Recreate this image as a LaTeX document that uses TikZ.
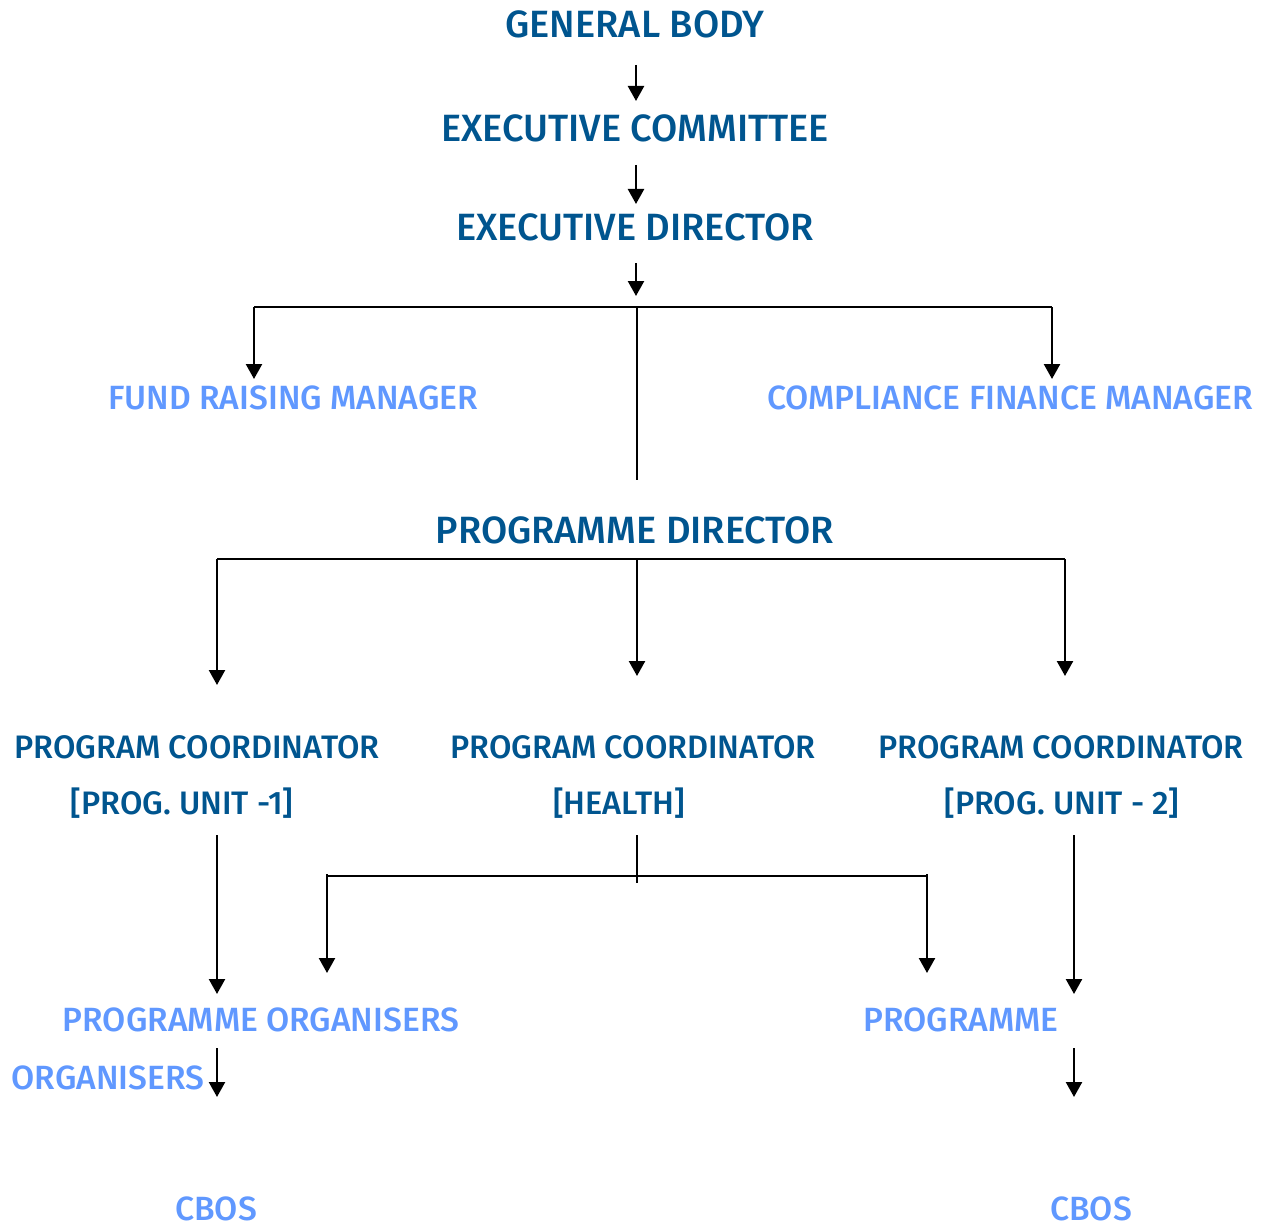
\documentclass[tikz,border=0pt]{standalone}
\usepackage{fontspec}
\setmainfont{Fira Sans}[UprightFont=* Medium]
\usetikzlibrary{arrows.meta}
\definecolor{dblue}{RGB}{0,85,143}
\definecolor{lblue}{RGB}{96,152,255}
\tikzset{
  big/.style={text=dblue,font=\fontsize{38}{44}\selectfont,inner sep=0pt,anchor=center},
  mid/.style={text=dblue,font=\fontsize{32.5}{40}\selectfont,inner sep=0pt,anchor=center},
  lite/.style={text=lblue,font=\fontsize{33.6}{40}\selectfont,inner sep=0pt,anchor=center},
  conn/.style={line width=2.4pt,draw=black},
  arr/.style={conn,-{Triangle[length=15pt,width=16pt]}}
}
\begin{document}
\begin{tikzpicture}[x=1pt,y=-1pt]
\useasboundingbox[fill=white] (0,0) rectangle (1270,1228);
% nodes
\node[big] (gb) at (635,24) {GENERAL BODY};
\node[big] (ec) at (635,128) {EXECUTIVE COMMITTEE};
\node[big] (ed) at (635,227) {EXECUTIVE DIRECTOR};
\node[lite] (frm) at (293,398) {FUND RAISING MANAGER};
\node[lite] (cfm) at (1010,398) {COMPLIANCE FINANCE MANAGER};
\node[big] (pd) at (635,530) {PROGRAMME DIRECTOR};
\node[mid] (pc1) at (197,747) {PROGRAM COORDINATOR};
\node[mid] (pu1) at (182,803) {[PROG. UNIT -1]};
\node[mid] (pc2) at (633,747) {PROGRAM COORDINATOR};
\node[mid] (pu2) at (619,803) {[HEALTH]};
\node[mid] (pc3) at (1061,747) {PROGRAM COORDINATOR};
\node[mid] (pu3) at (1062,803) {[PROG. UNIT - 2]};
\node[lite] (po) at (261,1020) {PROGRAMME ORGANISERS};
\node[lite] (pg) at (961,1020) {PROGRAMME};
\node[lite] (org) at (108,1078) {ORGANISERS};
\node[lite] (cb1) at (216,1209) {CBOS};
\node[lite] (cb2) at (1091,1209) {CBOS};
% coordinates
\coordinate (a1s) at (636,65);  \coordinate (a1e) at (636,101);
\coordinate (a2s) at (636,165); \coordinate (a2e) at (636,204);
\coordinate (a3s) at (636,263); \coordinate (a3e) at (636,296);
\coordinate (h1l) at (254,307); \coordinate (h1r) at (1052,307); \coordinate (h1c) at (637,307);
\coordinate (frmt) at (254,379); \coordinate (cfmt) at (1052,379);
\coordinate (pdt) at (637,480);
\coordinate (h2l) at (217,559); \coordinate (h2c) at (637,559); \coordinate (h2r) at (1065,559);
\coordinate (pc1t) at (217,685); \coordinate (pc2t) at (637,676); \coordinate (pc3t) at (1065,676);
\coordinate (l1s) at (217,835); \coordinate (l1e) at (217,994);
\coordinate (r1s) at (1074,835); \coordinate (r1e) at (1074,994);
\coordinate (m1s) at (637,835); \coordinate (m1e) at (637,883);
\coordinate (h3l) at (327,876); \coordinate (h3r) at (927,876);
\coordinate (h3lt) at (327,973); \coordinate (h3rt) at (927,973);
\coordinate (l2s) at (217,1048); \coordinate (l2e) at (217,1097);
\coordinate (r2s) at (1074,1048); \coordinate (r2e) at (1074,1097);
% connectors
\draw[arr] (a1s) -- (a1e);
\draw[arr] (a2s) -- (a2e);
\draw[arr] (a3s) -- (a3e);
\draw[conn] (h1l) -- (h1r);
\draw[arr] (h1l) -- (frmt);
\draw[arr] (h1r) -- (cfmt);
\draw[conn] (h1c) -- (pdt);
\draw[conn] (h2l) -- (h2r);
\draw[arr] (h2l) -- (pc1t);
\draw[arr] (h2c) -- (pc2t);
\draw[arr] (h2r) -- (pc3t);
\draw[arr] (l1s) -- (l1e);
\draw[arr] (r1s) -- (r1e);
\draw[conn] (m1s) -- (m1e);
\draw[conn] (h3l) -- (h3r);
\draw[arr] ([yshift=2pt]h3l) -- (h3lt);
\draw[arr] ([yshift=2pt]h3r) -- (h3rt);
\draw[arr] (l2s) -- (l2e);
\draw[arr] (r2s) -- (r2e);
\end{tikzpicture}
\end{document}
